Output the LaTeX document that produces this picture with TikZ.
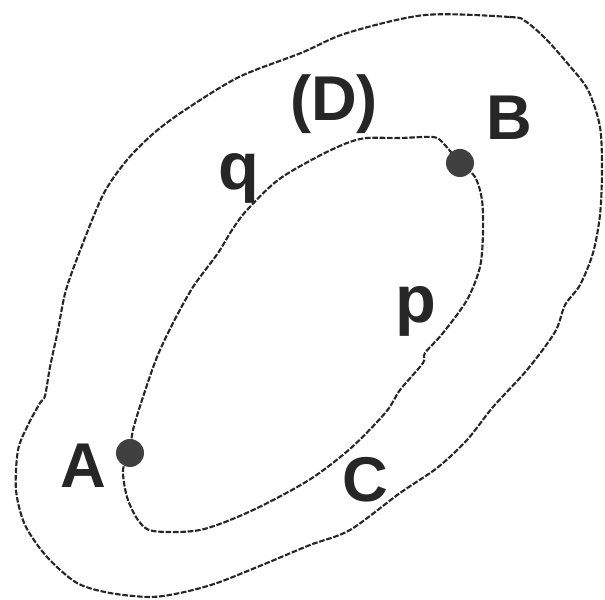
\documentclass[tikz,border=0pt]{standalone}
\usepackage{fontspec}
\setmainfont{Liberation Sans}

\begin{document}
\begin{tikzpicture}[x=0.1mm, y=-0.1mm, line width=0.6pt,
  curve/.style={draw=black!85, dash pattern=on 1.6pt off 0.5pt},
  dotfill/.style={fill=black!75},
  lbl/.style={anchor=base, text=black!85, font=\fontsize{18}{20}\selectfont\bfseries},
  sml/.style={lbl, font=\fontsize{19}{21}\selectfont\bfseries}]

  \useasboundingbox (0,0) rectangle (605,600);

  \coordinate (A) at (130,453);
  \coordinate (B) at (460,163);

  % 外圈（区域 D 的边界）
  \draw[curve] plot[smooth cycle, tension=0.5] coordinates {
    (425,15) (510,17) (525,21) (545,38) (568,64) (588,90) (600,127)
    (602,170) (600,215) (593,253) (580,285) (565,305) (555,332)
    (527,370) (493,407) (467,440) (437,468) (400,493) (350,530)
    (310,545) (267,563) (217,583) (180,593) (150,597) (110,593)
    (77,583) (47,557) (25,525) (16,490) (18,450) (28,425) (40,403)
    (45,396) (50,367) (58,330) (66,290) (83,243) (104,193) (127,160)
    (154,133) (185,110) (239,77) (301,53) (347,33)};

  % 内圈：q 段（上）与 p 段（下）
  \draw[curve] plot[smooth, tension=0.5] coordinates {
    (A) (133,430) (143,397) (157,357) (173,323) (193,287) (218,253)
    (232,230) (247,210) (278,180) (317,157) (347,143) (367,138)
    (400,138) (433,137) (443,143) (B)};
  \draw[curve] plot[smooth, tension=0.5] coordinates {
    (A) (123,470) (127,497) (138,520) (153,531) (200,530) (251,511)
    (309,480) (351,448) (386,412) (400,390) (423,363) (425,353)
    (443,333) (467,300) (480,267) (483,233) (482,200) (475,177) (B)};

  % 两个点
  \fill[dotfill] (A) circle (14);
  \fill[dotfill] (B) circle (14);

  % 标签
  \node[lbl] (labA) at (83,488)  {A};
  \node[lbl] (labB) at (509,140) {B};
  \node[lbl] (labC) at (365,502) {C};
  \node[lbl] (labD) at (334,121) {(D)};
  \node[sml] (labq) at (239,190) {q};
  \node[sml] (labp) at (416,323) {p};
\end{tikzpicture}
\end{document}
